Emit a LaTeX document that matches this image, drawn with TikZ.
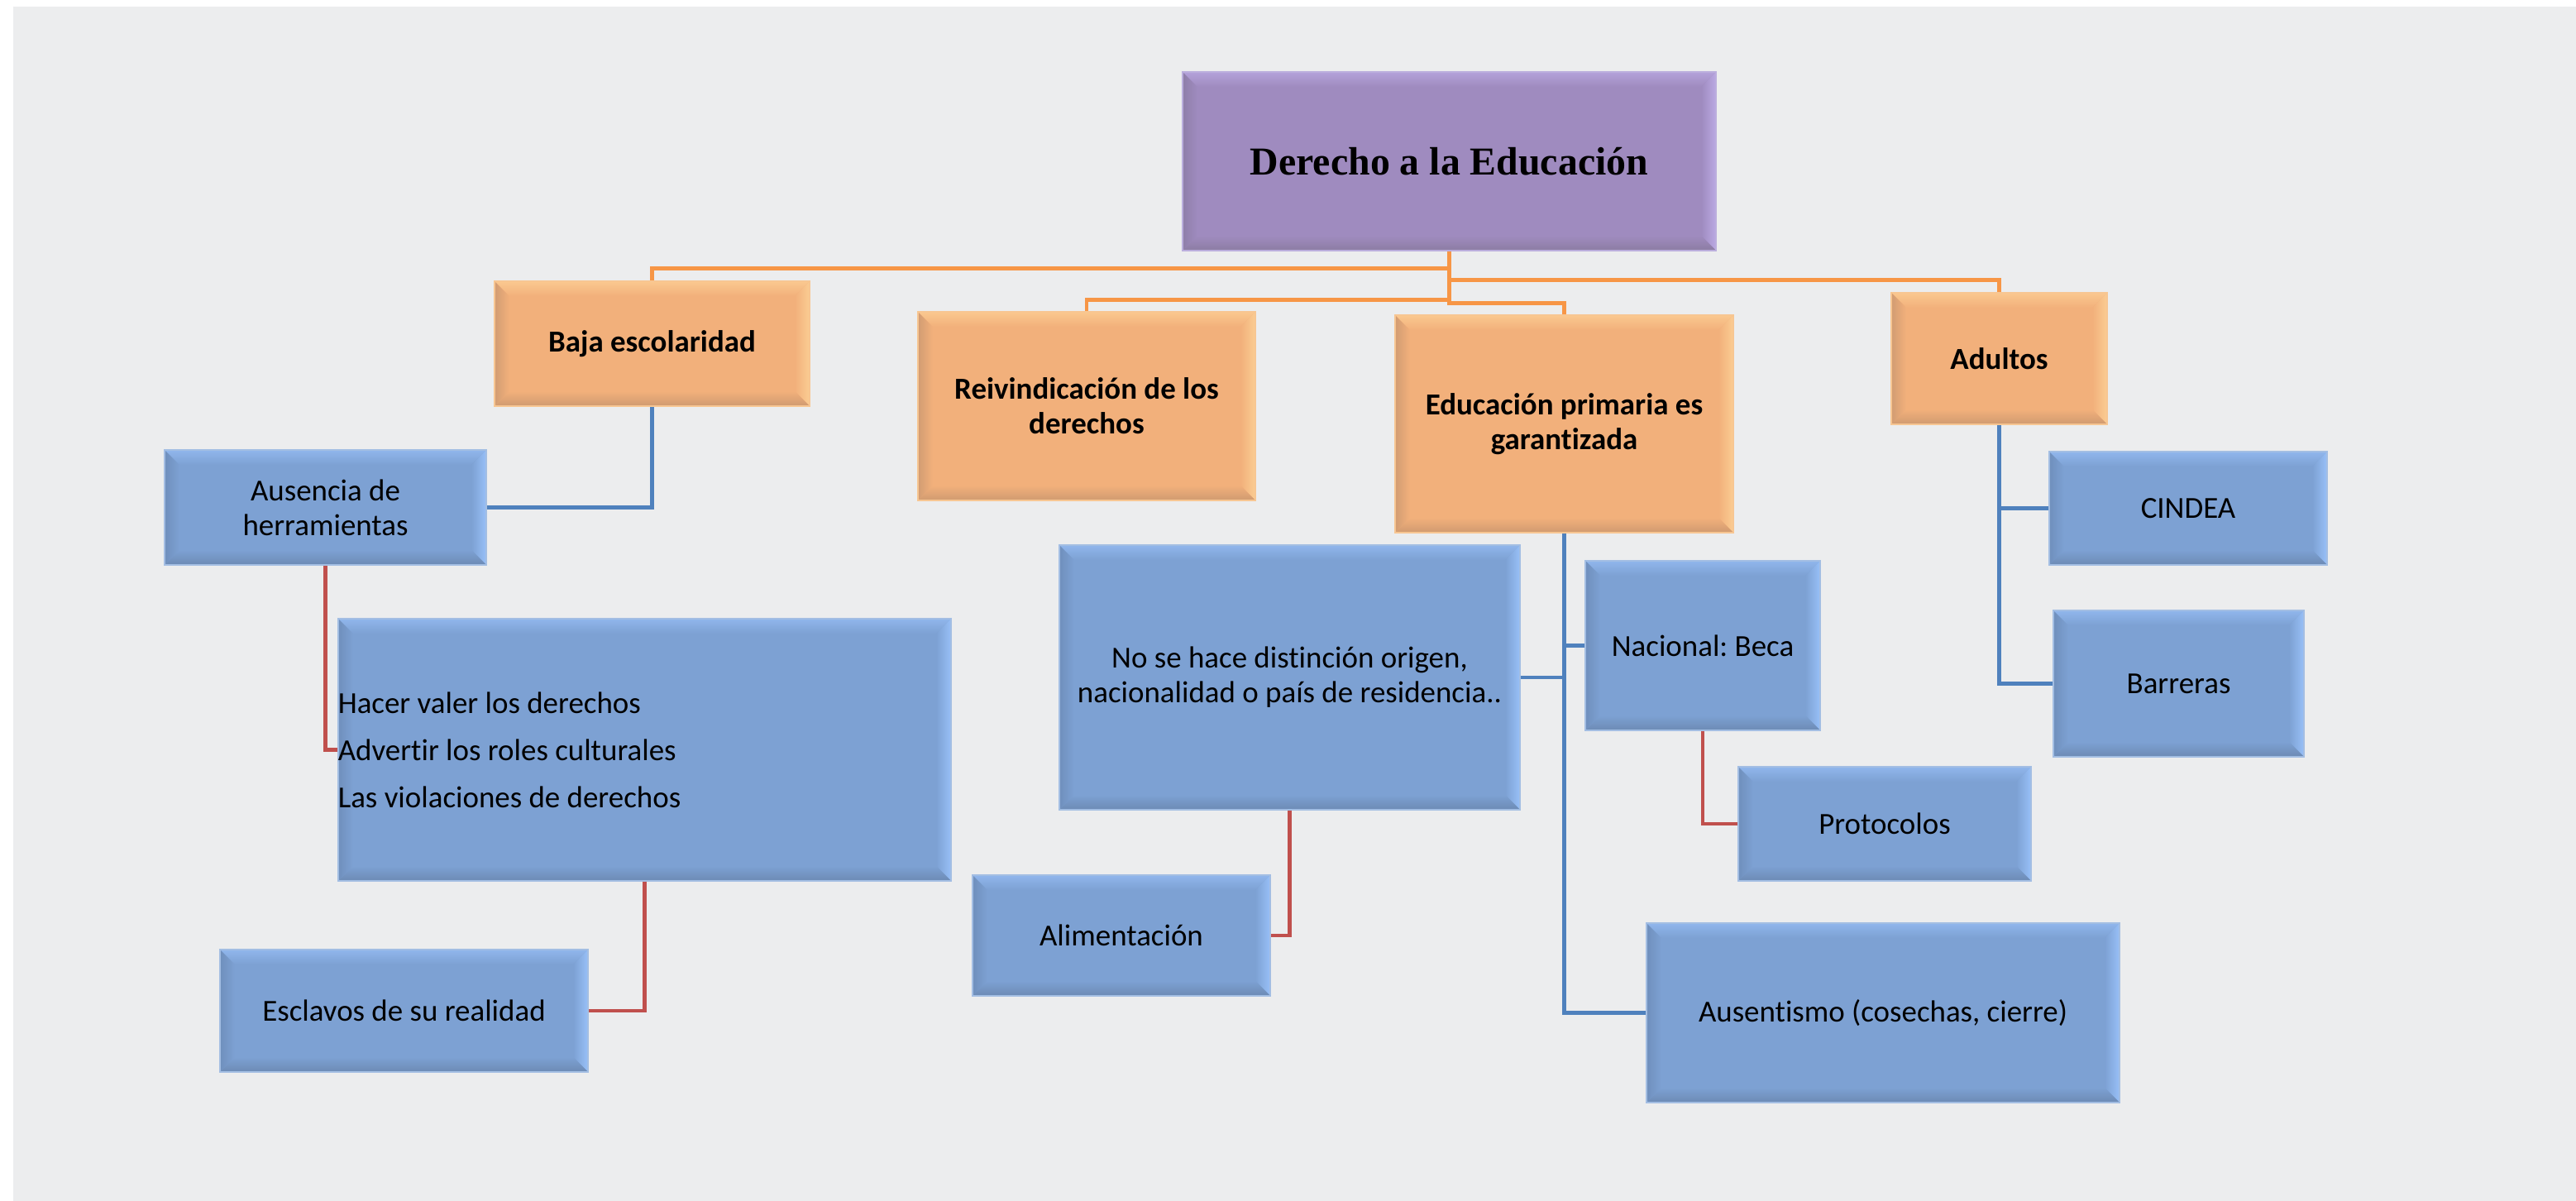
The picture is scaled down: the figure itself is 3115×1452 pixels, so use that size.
\documentclass[tikz,border=0pt]{standalone}
\usepackage{fontspec}
\setmainfont{Carlito}[Ligatures=NoCommon]
\newfontfamily\rootfont{Liberation Serif}
\frenchspacing
\definecolor{bgc}{HTML}{ECEDEE}
\definecolor{bluef}{HTML}{7DA1D3}
\definecolor{bluet}{HTML}{90B6EC}
\definecolor{bluer}{HTML}{98C0F8}
\definecolor{blueb}{HTML}{6C8AB4}
\definecolor{bluel}{HTML}{6F8FBC}
\definecolor{blued}{HTML}{A3BEE3}
\definecolor{orangef}{HTML}{F2B07B}
\definecolor{oranget}{HTML}{FAC88F}
\definecolor{oranger}{HTML}{FBCD93}
\definecolor{orangeb}{HTML}{CF9A70}
\definecolor{orangel}{HTML}{D19C72}
\definecolor{oranged}{HTML}{F7C692}
\definecolor{purplef}{HTML}{9F8BBF}
\definecolor{purplet}{HTML}{B4A2DA}
\definecolor{purpler}{HTML}{BBA9E4}
\definecolor{purpleb}{HTML}{8C7CA2}
\definecolor{purplel}{HTML}{8E7EA8}
\definecolor{purpled}{HTML}{BBAEDD}
\definecolor{lineor}{HTML}{F79646}
\definecolor{linebl}{HTML}{4F81BD}
\definecolor{linerd}{HTML}{C0504D}
\tikzset{
  bev/.style={fill=#1f, draw=#1d, line width=0.7pt, inner sep=0pt, align=flush center,
    font=\fontsize{10.5}{12}\selectfont,
    path picture={
      \coordinate (NW) at (path picture bounding box.north west);
      \coordinate (NE) at (path picture bounding box.north east);
      \coordinate (SW) at (path picture bounding box.south west);
      \coordinate (SE) at (path picture bounding box.south east);
      \shade[top color=#1t, bottom color=#1f] (NW) -- (NE) -- ([shift={(-0.18cm,-0.18cm)}]NE) -- ([shift={(0.18cm,-0.18cm)}]NW) -- cycle;
      \shade[left color=#1f, right color=#1r] (NE) -- (SE) -- ([shift={(-0.18cm,0.18cm)}]SE) -- ([shift={(-0.18cm,-0.18cm)}]NE) -- cycle;
      \shade[top color=#1f, bottom color=#1b] (SE) -- (SW) -- ([shift={(0.18cm,0.18cm)}]SW) -- ([shift={(-0.18cm,0.18cm)}]SE) -- cycle;
      \shade[left color=#1l, right color=#1f] (SW) -- (NW) -- ([shift={(0.18cm,-0.18cm)}]NW) -- ([shift={(0.18cm,0.18cm)}]SW) -- cycle;
    }},
  bluebox/.style={bev=blue},
  orangebox/.style={bev=orange, font=\fontsize{10.5}{12}\selectfont\bfseries},
  purplebox/.style={bev=purple, font=\rootfont\bfseries\fontsize{13.6}{16}\selectfont},
  oline/.style={draw=lineor, line width=1.4pt},
  bline/.style={draw=linebl, line width=1.3pt},
  rline/.style={draw=linerd, line width=1.3pt},
}
\begin{document}
\begin{tikzpicture}[x=0.01cm, y=-0.01cm]
\useasboundingbox (0,0) rectangle (3115,1452);
\fill[white] (0,0) rectangle (3115,1452);
\fill[bgc] (16,8) rectangle (3115,1452);

\node[purplebox, minimum width=6.45cm, minimum height=2.16cm] (root) at (1752.5,195) {Derecho a la Educación};

\node[orangebox, minimum width=3.81cm, minimum height=1.51cm] (baja) at (788.5,415.5) {Baja escolaridad};
\node[orangebox, minimum width=4.08cm, minimum height=2.28cm] (reiv) at (1314,491) {Reivindicación de los\\derechos};
\node[orangebox, minimum width=4.09cm, minimum height=2.63cm] (educ) at (1891.5,512.5) {Educación primaria es\\garantizada};
\node[orangebox, minimum width=2.61cm, minimum height=1.59cm] (adul) at (2417.5,433.5) {Adultos};

\node[bluebox, minimum width=3.89cm, minimum height=1.39cm] (ausen) at (393.5,613.5) {Ausencia de\\herramientas};
\node[bluebox, minimum width=7.41cm, minimum height=3.17cm, text width=7.41cm, align=flush left, font=\fontsize{10.5}{16.2}\selectfont] (big) at (779.5,906.5) {Hacer valer los derechos\\Advertir los roles culturales\\Las violaciones de derechos};
\node[bluebox, minimum width=4.45cm, minimum height=1.48cm] (escl) at (488.5,1222) {Esclavos de su realidad};
\node[bluebox, minimum width=5.57cm, minimum height=3.20cm] (nose) at (1559.5,819) {No se hace distinción origen,\\nacionalidad o país de residencia..};
\node[bluebox, minimum width=3.60cm, minimum height=1.46cm] (alim) at (1356,1131) {Alimentación};
\node[bluebox, minimum width=2.84cm, minimum height=2.05cm] (nac) at (2059,780.5) {Nacional: Beca};
\node[bluebox, minimum width=3.54cm, minimum height=1.38cm] (prot) at (2279,996) {Protocolos};
\node[bluebox, minimum width=5.72cm, minimum height=2.17cm] (ausent) at (2277,1224.5) {Ausentismo (cosechas, cierre)};
\node[bluebox, minimum width=3.36cm, minimum height=1.37cm] (cindea) at (2646,614.5) {CINDEA};
\node[bluebox, minimum width=3.03cm, minimum height=1.77cm] (barr) at (2634.5,826.5) {Barreras};

\draw[oline] (root.south) -- ++(0,20) -| (baja.north);
\draw[oline] (root.south) -- ++(0,34) -| (adul.north);
\draw[oline] (root.south) -- ++(0,58) -| (reiv.north);
\draw[oline] (root.south) -- ++(0,62) -| (educ.north);

\draw[bline] (baja.south) |- (ausen.east);
\draw[rline] (ausen.south) |- (big.west);
\draw[rline] (big.south) |- (escl.east);
\draw[rline] (nose.south) |- (alim.east);
\draw[bline] (educ.south) |- (ausent.west);
\draw[bline] (educ.south |- nac.west) -- (nac.west);
\draw[bline] (educ.south |- nose.east) -- (nose.east);
\draw[rline] (nac.south) |- (prot.west);
\draw[bline] (adul.south) |- (barr.west);
\draw[bline] (adul.south |- cindea.west) -- (cindea.west);
\end{tikzpicture}
\end{document}
